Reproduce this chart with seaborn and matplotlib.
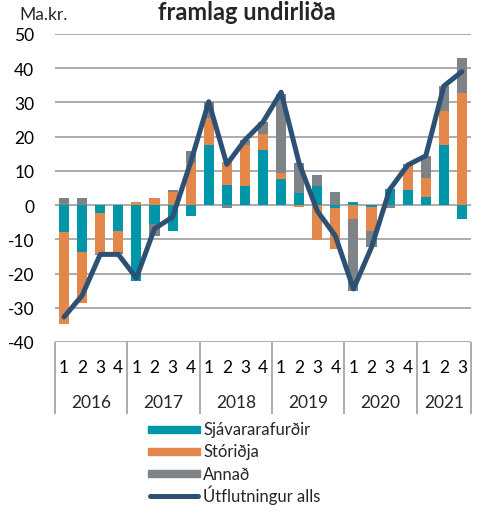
import numpy as np
import pandas as pd
import matplotlib
matplotlib.use('Agg')
import matplotlib.pyplot as plt
from matplotlib.patches import Rectangle
from matplotlib.lines import Line2D
import seaborn as sns

# =====================================
# DATA
# =====================================

years = ['2016', '2017', '2018', '2019', '2020', '2021']
quarters = ['1', '2', '3', '4'] * 5 + ['1', '2', '3']

sjavar = [-8.0, -13.7, -2.4, -7.6, -22.2, -5.4, -7.7, -3.2,
          17.5, 5.8, 5.6, 16.0, 7.5, 3.6, 5.6, -0.8,
          0.8, -0.5, 4.8, 4.3, 2.3, 17.7, -4.2]
storidja = [-26.8, -14.8, -11.8, -6.2, 0.8, 2.1, 3.9, 12.3,
            8.0, 6.7, 12.0, 4.7, 1.9, -0.6, -10.3, -11.9,
            -4.2, -7.0, 0.0, 7.1, 5.7, 9.9, 32.7]
annad = [2.0, 2.1, -0.3, -0.6, 0.0, -3.5, 0.4, 3.4,
         4.5, -0.8, 1.5, 3.6, 23.2, 8.8, 3.1, 3.8,
         -21.0, -4.8, -0.8, 0.5, 6.3, 7.1, 10.4]
utflutningur = [-32.7, -26.4, -14.4, -14.4, -21.3, -6.9, -3.5, 12.5,
                30.2, 11.9, 19.0, 24.3, 33.0, 12.2, -1.7, -9.0,
                -24.5, -12.3, 4.5, 11.7, 14.4, 34.8, 39.0]

series = {
    'Sjávararafurðir': sjavar,
    'Stóriðja': storidja,
    'Annað': annad,
}
colors = {
    'Sjávararafurðir': '#0096A9',
    'Stóriðja': '#E3874A',
    'Annað': '#7D8387',
}
line_color = '#2D5175'

df = pd.DataFrame(series)
df['Útflutningur alls'] = utflutningur
df['x'] = np.arange(len(df))

# =====================================
# PLOT
# =====================================

sns.set_theme(style='white')
plt.rcParams['font.family'] = ['Lato', 'DejaVu Sans']
plt.rcParams['axes.unicode_minus'] = False

W, H = 478, 506
fig = plt.figure(figsize=(W / 100, H / 100), dpi=100)
ax = fig.add_axes([55 / W, 1 - 343 / H, 416 / W, 308 / H])

# stacked bars, positives up and negatives down
pos_bottom = np.zeros(len(df))
neg_bottom = np.zeros(len(df))
for name in series:
    vals = df[name].to_numpy()
    bottom = np.where(vals >= 0, pos_bottom, neg_bottom)
    ax.bar(df['x'], vals, bottom=bottom, width=0.56,
           color=colors[name], linewidth=0, zorder=2)
    pos_bottom = pos_bottom + np.clip(vals, 0, None)
    neg_bottom = neg_bottom + np.clip(vals, None, 0)

sns.lineplot(data=df, x='x', y='Útflutningur alls', ax=ax,
             color=line_color, linewidth=3.6, zorder=3,
             solid_capstyle='round', solid_joinstyle='round')

ax.set_xlim(-0.5, len(df) - 0.5)
ax.set_ylim(-40, 50)
ax.set_yticks(range(-40, 51, 10))
ax.yaxis.grid(True, color='#A6A6A6', linewidth=1.3, zorder=0)
ax.set_axisbelow(True)
for s in ax.spines.values():
    s.set_visible(False)

ax.tick_params(axis='y', length=3, width=1, color='#A6A6A6',
               pad=12, labelsize=12.5, colors='black')
ax.tick_params(axis='x', length=0, pad=12, labelsize=12.5, colors='black')
ax.set_xticks(df['x'])
ax.set_xticklabels(quarters)
ax.set_xlabel('')
ax.set_ylabel('')

# year groups under the axis
trans = ax.get_xaxis_transform()
seps = [-0.5, 3.5, 7.5, 11.5, 15.5, 19.5, 22.5]
ax.vlines(seps, -0.235, 0, transform=trans, color='#A6A6A6',
          linewidth=1.3, clip_on=False)
for i, yr in enumerate(years):
    mid = (seps[i] + seps[i + 1]) / 2
    ax.text(mid, -0.195, yr, transform=trans, ha='center', va='center',
            fontsize=12.5)

fig.text(247 / W, 1 - 13 / H, 'framlag undirliða', ha='center',
         va='center', fontsize=17, fontweight='bold')
fig.text(19 / W, 1 - 15 / H, 'Ma.kr.', ha='left', va='center',
         fontsize=12.5)

# legend, drawn by hand so the rows sit where the reference has them
labels = list(series) + ['Útflutningur alls']
rows = [430, 452, 474.5, 496.5]
for lab, r in zip(labels, rows):
    if lab in colors:
        fig.patches.append(Rectangle((148 / W, 1 - (r + 3.5) / H),
                                     52 / W, 7 / H, color=colors[lab],
                                     transform=fig.transFigure))
    else:
        fig.lines.append(Line2D([150 / W, 198 / W], [1 - r / H] * 2,
                                color=line_color, linewidth=3.6,
                                solid_capstyle='round',
                                transform=fig.transFigure))
    fig.text(203 / W, 1 - (r + 5.5) / H, lab, ha='left', va='baseline',
             fontsize=12)

fig.savefig('out.png', dpi=100)
